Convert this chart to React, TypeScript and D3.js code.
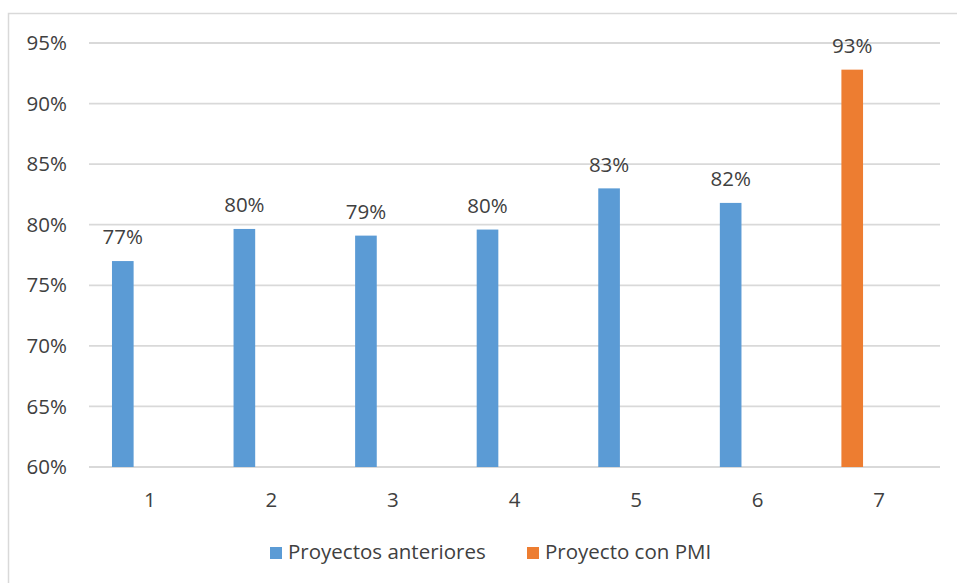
import React from "react";
import * as d3 from "d3";

// Categories (project number) and completion rates per series
const categories = ["1", "2", "3", "4", "5", "6", "7"];
const previousProjects = [0.77, 0.7965, 0.791, 0.796, 0.830, 0.818, null];
const pmiProject = [null, null, null, null, null, null, 0.928];
const seriesNames = ["Proyectos anteriores", "Proyecto con PMI"];
const seriesColors = ["#5b9bd5", "#ed7d31"];
const yTicks = [0.6, 0.65, 0.7, 0.75, 0.8, 0.85, 0.9, 0.95];

const W = 957;
const H = 583;
const plot = { left: 89, right: 940, top: 43, bottom: 467 };
const textColor = "#404040";
const gridColor = "#d9d9d9";
const font = "'Open Sans', 'Noto Sans', sans-serif";
const fontSize = 20.5;

export default function App() {
  const x = d3.scaleBand<string>().domain(categories).range([plot.left, plot.right]).padding(0);
  const y = d3.scaleLinear().domain([0.6, 0.95]).range([plot.bottom, plot.top]);
  const band = x.bandwidth();
  const barW = band * 0.178;
  const barOffset = -band * 0.222; // bar centre relative to category centre
  const fmt = d3.format(".0%");

  const bars: { cat: string; v: number; color: string }[] = [];
  categories.forEach((c, i) => {
    const a = previousProjects[i];
    const b = pmiProject[i];
    if (a != null) bars.push({ cat: c, v: a, color: seriesColors[0] });
    if (b != null) bars.push({ cat: c, v: b, color: seriesColors[1] });
  });

  const legendX = [270, 527];

  return (
    <svg
      width={W}
      height={H}
      style={{ position: "absolute", left: 0, top: 0, background: "#fff" }}
      fontFamily={font}
    >
      <rect x={8.5} y={13.5} width={W + 20} height={H + 20} fill="#fff" stroke={gridColor} strokeWidth={1.5} />
      {yTicks.map((t) => (
        <g key={t}>
          <line x1={plot.left} x2={plot.right} y1={y(t)} y2={y(t)} stroke={gridColor} strokeWidth={1.8} />
          <text x={67} y={y(t)} dy="0.35em" textAnchor="end" fontSize={fontSize} fill={textColor}>
            {fmt(t)}
          </text>
        </g>
      ))}
      {bars.map((d, i) => {
        const cx = (x(d.cat) as number) + band / 2 + barOffset;
        return (
          <g key={i}>
            <rect x={cx - barW / 2} y={y(d.v)} width={barW} height={plot.bottom - y(d.v)} fill={d.color} />
            <text x={cx} y={y(d.v) - 24} dy="0.35em" textAnchor="middle" fontSize={fontSize} fill={textColor}>
              {fmt(d.v)}
            </text>
          </g>
        );
      })}
      {categories.map((c) => (
        <text key={c} x={(x(c) as number) + band / 2} y={500} dy="0.35em" textAnchor="middle" fontSize={fontSize} fill={textColor}>
          {c}
        </text>
      ))}
      {seriesNames.map((s, i) => (
        <g key={s}>
          <rect x={legendX[i]} y={547} width={12} height={12} fill={seriesColors[i]} />
          <text x={legendX[i] + 18} y={552} dy="0.35em" fontSize={fontSize} fill={textColor}>
            {s}
          </text>
        </g>
      ))}
    </svg>
  );
}
